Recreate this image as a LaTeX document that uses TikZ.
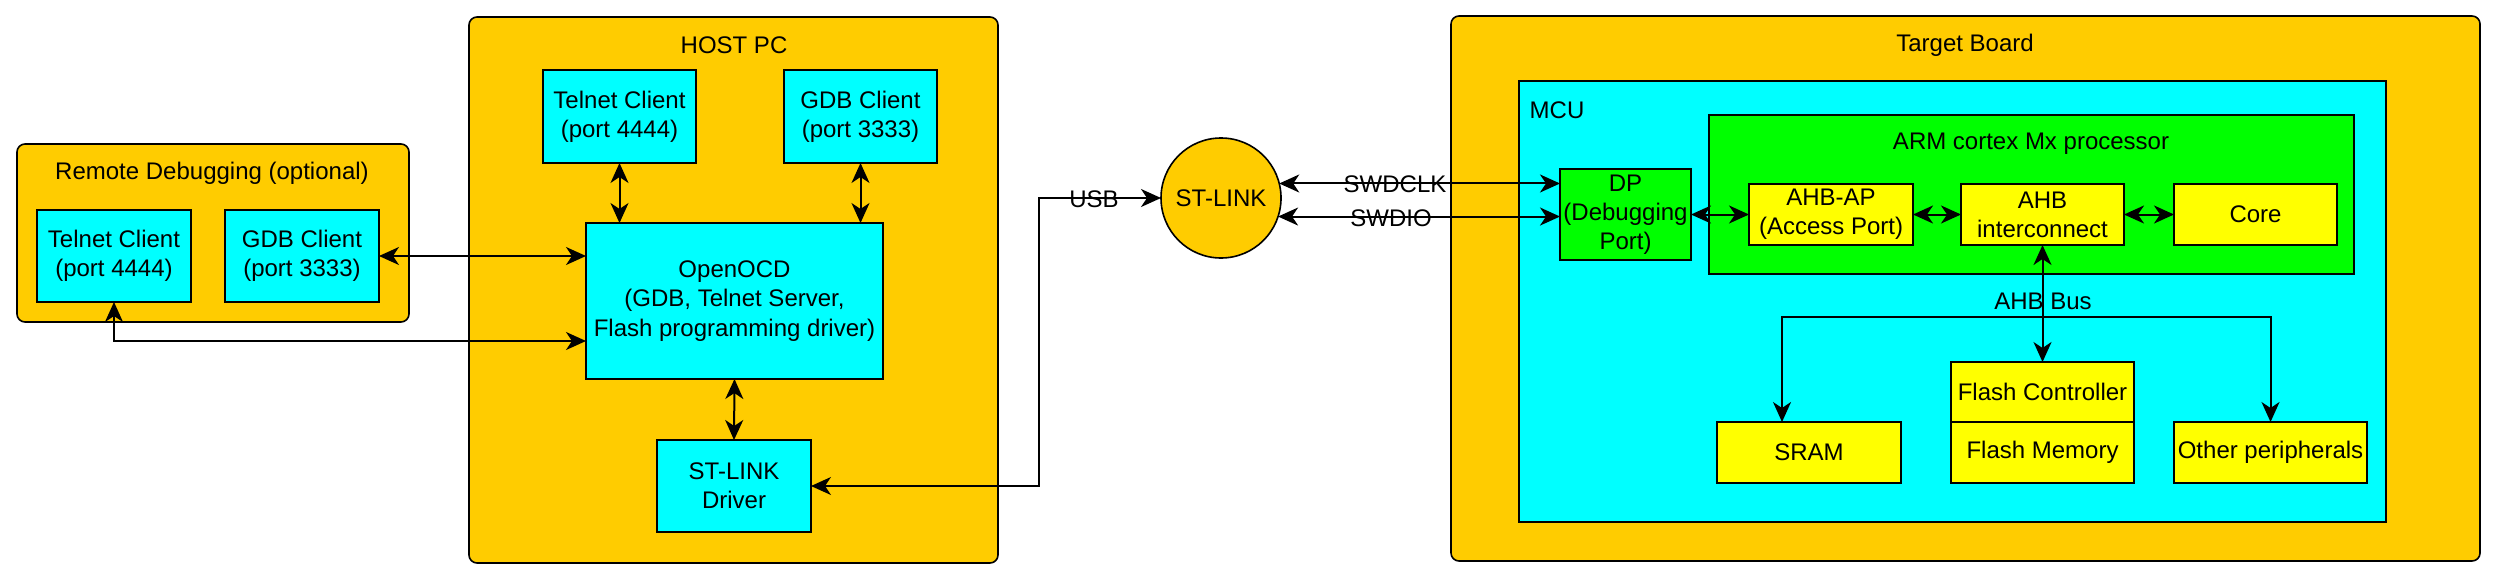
\documentclass[tikz,border=0pt]{standalone}
\usepackage{fontspec}
\setmainfont{Liberation Sans}
\usetikzlibrary{arrows.meta}
\definecolor{goldb}{HTML}{FFCC00}
\definecolor{cyanb}{HTML}{00FFFF}
\definecolor{greenb}{HTML}{00FF00}
\definecolor{yellowb}{HTML}{FFFF00}
% \boxnode{style}{name}{x1}{y1}{x2}{y2}{text}
\newcommand\boxnode[7]{%
  \node[#1, minimum width={(#5-#3)*0.5pt}, minimum height={(#6-#4)*0.5pt}]
    (#2) at ({(#3+#5)/2},{(#4+#6)/2}) {#7};}
\begin{document}
\begin{tikzpicture}[x=0.5pt,y=-0.5pt,
  every node/.style={font=\fontsize{12}{14.6}\selectfont, align=center, inner sep=0pt, outer sep=0pt},
  container/.style={draw, line width=0.8pt, fill=goldb, rounded corners=4pt},
  cbox/.style={draw, line width=0.8pt, fill=cyanb},
  gbox/.style={draw, line width=0.8pt, fill=greenb},
  ybox/.style={draw, line width=0.8pt, fill=yellowb},
  tip/.tip={Stealth[length=10pt,width=9pt,inset=3pt]},
  link/.style={line width=1pt, tip-tip},
  arr/.style={line width=1pt, -tip},
]
\useasboundingbox (0,0) rectangle (2498,578);
% Remote debugging
\boxnode{container}{remote}{17}{144}{409}{322}{}
\node (remotet) at (212,173) {Remote Debugging (optional)};
\boxnode{cbox}{rtel}{37}{210}{191}{302}{Telnet Client\\(port 4444)}
\boxnode{cbox}{rgdb}{225}{210}{379}{302}{GDB Client\\(port 3333)}
% Host PC
\boxnode{container}{host}{469}{17}{998}{563}{}
\node (hostt) at (734,45) {HOST PC};
\boxnode{cbox}{htel}{543}{70}{696}{163}{Telnet Client\\(port 4444)}
\boxnode{cbox}{hgdb}{784}{70}{937}{163}{GDB Client\\(port 3333)}
\boxnode{cbox}{ocd}{586}{223}{883}{379}{OpenOCD\\(GDB, Telnet Server,\\Flash programming driver)}
\boxnode{cbox}{drv}{657}{440}{811}{532}{ST-LINK\\Driver}
% ST-LINK
\node[circle, draw, line width=0.8pt, fill=goldb, minimum size=60pt] (stlink) at (1221,198) {ST-LINK};
% Target board
\boxnode{container}{target}{1451}{16}{2480}{561}{}
\node (targett) at (1965,45) {Target Board};
\boxnode{cbox}{mcu}{1519}{81}{2386}{522}{}
\node (mcut) at (1557,110) {MCU};
\boxnode{gbox}{arm}{1709}{115}{2354}{274}{}
\node (armt) at (2031,144) {ARM cortex Mx processor};
\boxnode{gbox}{dp}{1560}{169}{1691}{260}{DP\\(Debugging\\Port)}
\boxnode{ybox}{ahbap}{1749}{184}{1913}{245}{AHB-AP\\(Access Port)}
\boxnode{ybox}{ahb}{1961}{184}{2124}{245}{AHB\\interconnect}
\boxnode{ybox}{core}{2174}{184}{2337}{245}{Core}
\boxnode{ybox}{fc}{1951}{362}{2134}{422}{Flash Controller}
\boxnode{ybox}{fm}{1951}{422}{2134}{483}{Flash Memory}
\boxnode{ybox}{sram}{1717}{422}{1901}{483}{SRAM}
\boxnode{ybox}{oth}{2174}{422}{2367}{483}{Other peripherals}
% coordinates
\coordinate (ocdin) at (586,341);
\coordinate (usbx) at (1039,0);
\coordinate (busj) at (2043,317);
\coordinate (sramin) at (1782,422);
% connectors
\draw[link] (htel.south) -- (htel.south |- ocd.north);
\draw[link] (hgdb.south) -- (hgdb.south |- ocd.north);
\draw[link] (ocd.south) -- (drv.north);
\draw[link] (rgdb.east) -- (rgdb.east -| ocd.west);
\draw[link] (rtel.south) |- (ocdin);
\draw[link] (drv.east) -- (drv.east -| usbx) |- (stlink.west);
\draw[link] (stlink.14.5) -- (stlink.14.5 -| dp.west);
\draw[link] (stlink.-18.5) -- (stlink.-18.5 -| dp.west);
\draw[link] (dp.east) -- (ahbap.west);
\draw[link] (ahbap.east) -- (ahb.west);
\draw[link] (ahb.east) -- (core.west);
\draw[link] (ahb.south) -- (fc.north);
\draw[arr] (busj) -| (sramin);
\draw[arr] (busj) -| (oth.north);
% labels
\node (usb) at (1094,199) {USB};
\node (swdclk) at (1395,184) {SWDCLK};
\node (swdio) at (1391,218) {SWDIO};
\node (ahbbus) at (2043,301) {AHB Bus};
\end{tikzpicture}
\end{document}
